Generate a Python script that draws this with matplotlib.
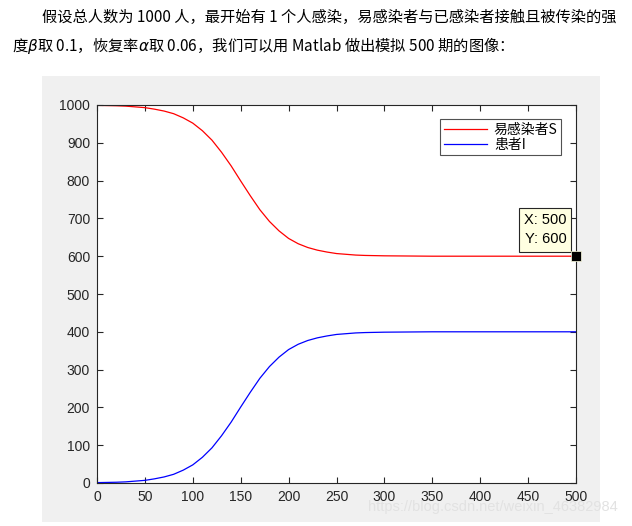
import matplotlib.pyplot as plt
from matplotlib.patches import Rectangle

# values (period, infected I, susceptible S)
t = [0, 10, 20, 30, 40, 50, 60, 70, 80, 90, 100, 110, 120, 130, 140, 150,
     160, 170, 180, 190, 200, 210, 220, 230, 240, 250, 260, 270, 280, 300,
     350, 400, 450, 500]
infected = [1, 1.5, 2, 3, 5, 7, 11, 16, 23, 34, 48, 68, 93, 125, 161, 201,
            240, 277, 308, 333, 353, 367, 377, 384, 389, 393, 395, 397, 398, 399,
            400, 400, 400, 400]
susceptible = [999, 998.5, 998, 997, 995, 993, 989, 984, 977, 966, 952, 932, 907, 875, 839, 799,
               760, 723, 692, 667, 647, 633, 623, 616, 611, 607, 605, 603, 602, 601,
               600, 600, 600, 600]
xticks = [0, 50, 100, 150, 200, 250, 300, 350, 400, 450, 500]
yticks = [0, 100, 200, 300, 400, 500, 600, 700, 800, 900, 1000]

fig = plt.figure(figsize=(6.32, 5.26), dpi=100)
fig.patch.set_facecolor('white')

cjk = ['Noto Sans CJK SC', 'DejaVu Sans']
fig.text(42 / 632, 1 - 17 / 526, '假设总人数为 1000 人，最开始有 1 个人感染，易感染者与已感染者接触且被传染的强',
         family=cjk, fontsize=11, va='center', ha='left')
fig.text(12 / 632, 1 - 46 / 526, '度$\\beta$取 0.1，恢复率$\\alpha$取 0.06，我们可以用 Matlab 做出模拟 500 期的图像：',
         family=cjk, fontsize=11, va='center', ha='left')

# grey matlab figure panel (behind the axes)
fig.patches.append(Rectangle((42 / 632, 1 - 522 / 526), 558 / 632, 446 / 526,
                             transform=fig.transFigure, facecolor='#f0f0f0',
                             edgecolor='none', zorder=-10))

ax = fig.add_axes([97 / 632, 1 - 483 / 526, 479 / 632, 378 / 526])
ax.plot(t, susceptible, color='red', lw=0.9, label='易感染者S')
ax.plot(t, infected, color='blue', lw=0.9, label='患者I')
ax.set_xlim(0, 500)
ax.set_ylim(0, 1000)
ax.set_xticks(xticks)
ax.set_yticks(yticks)
ax.tick_params(direction='in', top=True, right=True, length=4, width=0.8,
               labelsize=10, colors='#262626', pad=5)
for lab in ax.get_xticklabels() + ax.get_yticklabels():
    lab.set_family('Liberation Sans')
for s in ax.spines.values():
    s.set_color('#262626')
    s.set_linewidth(0.8)

leg = ax.legend(loc='upper right', bbox_to_anchor=(0.969, 0.963), borderaxespad=0,
                prop={'family': cjk, 'size': 10},
                fancybox=False, edgecolor='#262626', handlelength=3.1,
                borderpad=0.25, labelspacing=0.1, handletextpad=0.5)
leg.get_frame().set_linewidth(0.8)

# data tip
ax.plot([500], [600], 's', color='black', ms=7, mec='#ffffe1', mew=0.5, clip_on=False, zorder=5)
ax.annotate('X: 500\nY: 600', xy=(500, 600), xytext=(-7, 7), textcoords='offset points',
            ha='right', va='bottom', family='Liberation Sans', fontsize=10.5,
            linespacing=1.5,
            bbox=dict(boxstyle='square,pad=0.35', facecolor='#ffffe1', edgecolor='#262626', lw=0.8))

fig.text(618 / 632, 1 - 507 / 526, 'https://blog.csdn.net/weixin_46382984', ha='right', va='center',
         fontsize=10.5, color='#e2e2e2', family='Liberation Sans')

fig.savefig('out.png', dpi=100)
